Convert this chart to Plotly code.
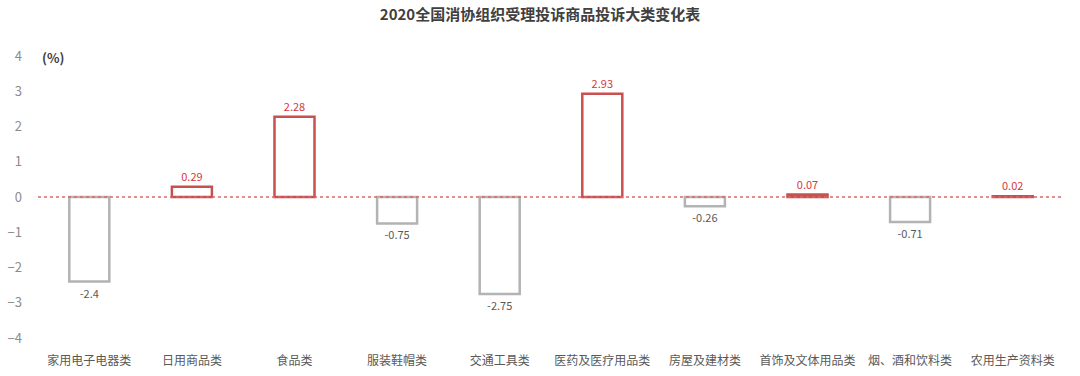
import plotly.graph_objects as go

categories = ["家用电子电器类", "日用商品类", "食品类", "服装鞋帽类", "交通工具类",
              "医药及医疗用品类", "房屋及建材类", "首饰及文体用品类", "烟、酒和饮料类", "农用生产资料类"]
values = [-2.4, 0.29, 2.28, -0.75, -2.75, 2.93, -0.26, 0.07, -0.71, 0.02]
tick_vals = [-4, -3, -2, -1, 0, 1, 2, 3, 4]

RED = "#c9504f"
GRAY = "#b3b3b3"
line_colors = [RED if v >= 0 else GRAY for v in values]
text_colors = ["#d9363e" if v >= 0 else "#595959" for v in values]
labels = [f"{v:.2f}" if abs(v) < 0.1 else f"{v:g}" for v in values]

font = "Noto Sans CJK SC"

fig = go.Figure()
fig.add_trace(go.Bar(
    x=categories, y=values,
    marker=dict(color="rgba(255,255,255,0)", line=dict(color=line_colors, width=2.5)),
    width=0.39,
    text=labels, textposition="outside", cliponaxis=False,
    textfont=dict(color=text_colors, size=11, family=font),
    hoverinfo="x+y",
))
fig.add_hline(y=0, line=dict(color="#d9676a", width=1.3, dash="3px,3px"), layer="above")

fig.update_layout(
    width=1080, height=376,
    margin=dict(l=38, r=16, t=56, b=38),
    paper_bgcolor="white", plot_bgcolor="white",
    showlegend=False,
    title=dict(text="<b>2020全国消协组织受理投诉商品投诉大类变化表</b>",
               x=0.5, xanchor="center", y=0.96, yanchor="middle",
               font=dict(size=15, color="#404040", family=font)),
    xaxis=dict(showgrid=False, showline=False, ticks="", ticklabelstandoff=14,
               automargin=False,
               tickfont=dict(size=12, color="#595959", family=font)),
    yaxis=dict(range=[-4, 4], tickvals=tick_vals, showgrid=False, zeroline=False,
               showline=False, ticks="", ticklabelstandoff=15, automargin=False,
               tickfont=dict(size=13, color="#8c8c8c", family=font)),
    bargap=0.6,
)
fig.add_annotation(text="<b>(%)</b>", xref="paper", yref="paper", x=0.015, y=0.993,
                   xanchor="center", yanchor="middle", showarrow=False,
                   font=dict(size=13, color="#404040", family=font))

fig.write_html("out.html", config={"displayModeBar": False},
               post_script="document.body.style.margin='0';")
